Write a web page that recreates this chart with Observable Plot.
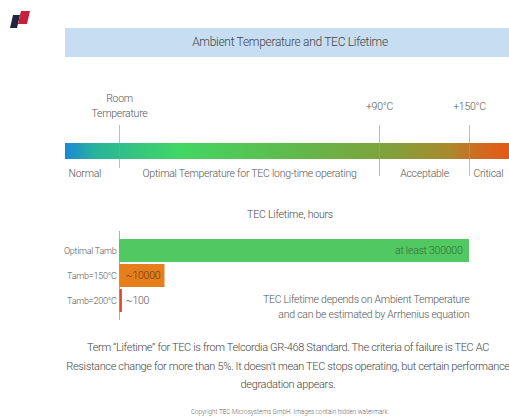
<!DOCTYPE html>
<html>
<head>
<meta charset="utf-8">
<script src="https://cdn.jsdelivr.net/npm/d3@7"></script>
<script src="https://cdn.jsdelivr.net/npm/@observablehq/plot@0.6"></script>
<style>
  html, body { margin: 0; padding: 0; background: #fff; overflow: hidden; }
  body { width: 509px; height: 418px; position: relative; font-family: Roboto, "Liberation Sans", sans-serif; font-weight: 300; color: #444; }
  .abs { position: absolute; }
  #header { left: 65px; top: 28px; width: 450px; height: 29px; background: #c6ddf2; text-align: center; line-height: 29px; font-size: 12px; letter-spacing: -0.3px; color: #444; }
  #lifeTitle { left: 190px; top: 208px; width: 200px; text-align: center; font-size: 10.5px; letter-spacing: -0.2px; color: #444; }
  #footer { left: 28px; top: 339px; width: 520px; text-align: center; font-size: 11px; letter-spacing: -0.35px; line-height: 18.5px; color: #444; white-space: nowrap; }
  #copy { left: 90px; top: 408px; width: 400px; text-align: center; font-size: 6.3px; color: #666; white-space: nowrap; }
  svg text { font-family: Roboto, "Liberation Sans", sans-serif; font-weight: 300; letter-spacing: -0.25px; }
</style>
</head>
<body>
<svg class="abs" style="left:0;top:0" width="40" height="35">
  <polygon points="10,28 13,15 20,15 17,28" fill="#1d2540"/>
  <polygon points="18,24 21,11 30,11 27,24" fill="#c8203a"/>
</svg>
<div id="header" class="abs">Ambient Temperature and TEC Lifetime</div>
<div id="tempPlot" class="abs" style="left:0;top:85px"></div>
<div id="lifeTitle" class="abs">TEC Lifetime, hours</div>
<div id="lifePlot" class="abs" style="left:0;top:225px"></div>
<div id="footer" class="abs">Term “Lifetime” for TEC is from Telcordia GR-468 Standard. The criteria of failure is TEC AC<br>Resistance change for more than 5%. It doesn't mean TEC stops operating, but certain performance<br>degradation appears.</div>
<div id="copy" class="abs">Copyright TEC Microsystems GmbH. Images contain hidden watermark.</div>
<script>
// ---- Data ----
const tempTicks = [
  {t: 25, label: "Room\nTemperature"},
  {t: 90, label: "+90°C"},
  {t: 150, label: "+150°C"}
];
const zones = [
  {t0: 0, t1: 25, label: "Normal"},
  {t0: 25, t1: 90, label: "Optimal Temperature for TEC long-time operating"},
  {t0: 90, t1: 150, label: "Acceptable"},
  {t0: 150, t1: 200, label: "Critical"}
];
const gradientStops = [
  {t: 0, color: "#1a88d6"},
  {t: 14, color: "#28b49a"},
  {t: 40, color: "#42d664"},
  {t: 70, color: "#62b84a"},
  {t: 100, color: "#82a03a"},
  {t: 135, color: "#a88a2e"},
  {t: 160, color: "#d06a20"},
  {t: 200, color: "#f54e0e"}
];
const conditions = ["Optimal Tamb", "Tamb=150°C", "Tamb=200°C"];
const lifetimeHours = [300000, 10000, 100];
const lifetimeLabels = ["at least 300000", "~10000", "~100"];
const barColors = ["#52c862", "#e67e1c", "#dd4a26"];
const labelColors = ["#2f6e36", "#6a3a10", "#555555"];
const note = "TEC Lifetime depends on Ambient Temperature\nand can be estimated by Arrhenius equation";

// ---- Temperature band ----
const tempDomain = [0, 25, 90, 150, 200];
const tempRange = [65, 119, 379, 469, 529];
const tempPlot = Plot.plot({
  width: 509, height: 100,
  margin: 0,
  x: {type: "linear", domain: tempDomain, range: tempRange, axis: null},
  marks: [
    Plot.rect([{t0: 0, t1: 200}], {x1: "t0", x2: "t1", insetTop: 58, insetBottom: 26, fill: "url(#tempGrad)"}),
    Plot.ruleX(tempTicks.filter(d => d.t === 25), {x: "t", insetTop: 40, insetBottom: 17, stroke: "#999", strokeWidth: 0.8, strokeOpacity: 0.8}),
    Plot.ruleX(tempTicks.filter(d => d.t !== 25), {x: "t", insetTop: 40, insetBottom: 9, stroke: "#999", strokeWidth: 0.8, strokeOpacity: 0.8}),
    Plot.text(tempTicks, {x: "t", text: "label", frameAnchor: "top", dy: 19, lineAnchor: "middle", lineHeight: 1.5, fontSize: 10.5, fill: "#555"}),
    Plot.text(zones.filter(d => d.label === "Normal"), {x: "t0", text: "label", frameAnchor: "top", dy: 88, dx: 3, textAnchor: "start", lineAnchor: "middle", fontSize: 10.5, fill: "#555"}),
    Plot.text(zones.filter(d => d.label !== "Normal" && d.label !== "Critical"), {x: d => (d.t0 + d.t1) / 2, text: "label", frameAnchor: "top", dy: 88, lineAnchor: "middle", fontSize: 10.5, fill: "#555"}),
    Plot.text(zones.filter(d => d.label === "Critical"), {x: "t0", text: "label", frameAnchor: "top", dy: 88, dx: 4, textAnchor: "start", lineAnchor: "middle", fontSize: 10.5, fill: "#555"})
  ]
});
document.getElementById("tempPlot").appendChild(tempPlot);
{
  const xs = tempPlot.scale("x");
  const a = xs.apply(0), b = xs.apply(200);
  const grad = d3.select(tempPlot).insert("defs", ":first-child")
    .append("linearGradient").attr("id", "tempGrad").attr("x1", 0).attr("x2", 1).attr("y1", 0).attr("y2", 0);
  grad.selectAll("stop").data(gradientStops).join("stop")
    .attr("offset", d => (xs.apply(d.t) - a) / (b - a))
    .attr("stop-color", d => d.color);
}

// ---- Lifetime bars ----
const life = conditions.map((c, i) => ({cond: c, hours: lifetimeHours[i], label: lifetimeLabels[i], color: barColors[i], lc: labelColors[i]}));
const lifePlot = Plot.plot({
  width: 509, height: 100,
  marginLeft: 119, marginRight: 40, marginTop: 12, marginBottom: 10,
  x: {type: "pow", exponent: 0.6, domain: [0, 300000], axis: null},
  y: {domain: conditions, padding: 0.07, label: null},
  marks: [
    Plot.axisY({tickSize: 0, tickPadding: 3, fontSize: 9, fill: "#555", label: null}),
    Plot.barX(life, {x: "hours", y: "cond", fill: "color"}),
    Plot.ruleX([0], {insetTop: -6, insetBottom: -5, stroke: "#999", strokeWidth: 0.8}),
    Plot.text(life.filter(d => d.hours >= 100000), {x: "hours", y: "cond", text: "label", textAnchor: "end", dx: -7, fill: "lc", fontSize: 10.5}),
    Plot.text(life.filter(d => d.hours < 100000), {x: 0, y: "cond", text: "label", textAnchor: "start", dx: 6, fill: "lc", fontSize: 10.5}),
    Plot.text([note], {text: d => d, frameAnchor: "top-right", dy: 68, textAnchor: "end", lineAnchor: "middle", lineHeight: 1.5, fontSize: 10.5, fill: "#555"})
  ]
});
document.getElementById("lifePlot").appendChild(lifePlot);
</script>
</body>
</html>
